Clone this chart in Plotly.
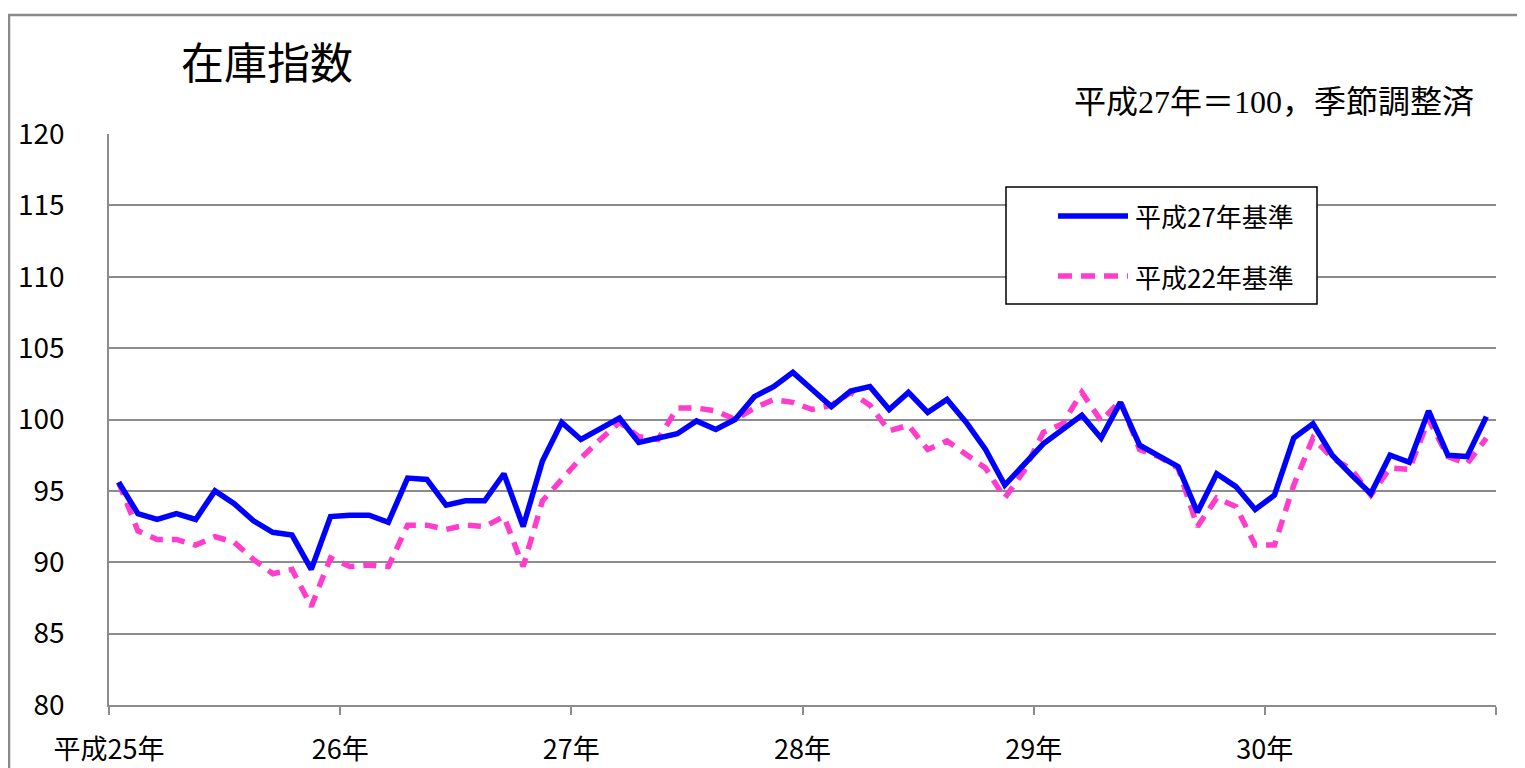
import plotly.graph_objects as go

# ---- data ----
year_labels = ["平成25年", "26年", "27年", "28年", "29年", "30年", ""]
series_names = ["平成27年基準", "平成22年基準"]

base27 = [95.6, 93.4, 93.0, 93.4, 93.0, 95.0, 94.1, 92.9, 92.1, 91.9, 89.5, 93.2,
          93.3, 93.3, 92.8, 95.9, 95.8, 94.0, 94.3, 94.3, 96.2, 92.5, 97.1, 99.8,
          98.6, 99.4, 100.1, 98.4, 98.7, 99.0, 99.9, 99.3, 100.0, 101.6, 102.3, 103.3,
          102.1, 100.9, 102.0, 102.3, 100.7, 101.9, 100.5, 101.4, 99.8, 97.9, 95.4, 96.8,
          98.3, 99.3, 100.3, 98.7, 101.2, 98.2, 97.5, 96.7, 93.5, 96.2, 95.3, 93.7,
          94.7, 98.7, 99.7, 97.5, 96.1, 94.8, 97.5, 97.0, 100.6, 97.5, 97.4, 100.2]

base22 = [95.6, 92.2, 91.6, 91.6, 91.2, 91.8, 91.4, 90.2, 89.2, 89.5, 86.9, 90.3,
          89.7, 89.8, 89.7, 92.6, 92.6, 92.3, 92.6, 92.5, 93.2, 89.7, 94.3, 95.8,
          97.3, 98.6, 99.8, 98.8, 98.6, 100.8, 100.8, 100.6, 100.0, 100.8, 101.4, 101.2,
          100.7, 101.0, 101.9, 101.0, 99.2, 99.6, 97.9, 98.5, 97.5, 96.6, 94.5, 96.4,
          99.1, 99.7, 101.9, 99.9, 101.3, 97.9, 97.4, 96.6, 92.5, 94.5, 93.9, 91.2,
          91.2, 95.4, 98.7, 97.3, 96.5, 94.7, 96.6, 96.5, 100.0, 97.4, 96.9, 98.7]

months = [i + 0.5 for i in range(len(base27))]   # month centres
year_ticks = [12 * k for k in range(len(year_labels))]

BLUE = "#0000FF"
PINK = "#FF3CCB"
JP = "Noto Sans CJK JP"

# ---- geometry (page pixels; the page body adds an 8px margin) ----
OFF = 8
PAGE_W, PAGE_H = 1525, 768
W, H = PAGE_W - OFF, PAGE_H - OFF
# plot area in page pixels
PL, PR, PT, PB = 109, 1496, 134, 705
L, T = PL - OFF, PT - OFF
R, B = W - (PR - OFF), H - (PB - OFF)
PW, PH = PR - PL, PB - PT


def px(xp):
    return (xp - PL) / PW


def py(yp):
    return (PB - yp) / PH


fig = go.Figure()
fig.add_trace(go.Scatter(x=months, y=base22, mode="lines", name=series_names[1],
                         line=dict(color=PINK, width=5.5, dash="13px,9px"),
                         showlegend=False))
fig.add_trace(go.Scatter(x=months, y=base27, mode="lines", name=series_names[0],
                         line=dict(color=BLUE, width=5.5),
                         showlegend=False))

shapes = []
annotations = []

# outer frame
shapes.append(dict(type="rect", xref="paper", yref="paper",
                   x0=px(9), x1=px(1560), y0=py(800), y1=py(15),
                   line=dict(color="#8A8A8A", width=2.5), fillcolor="rgba(0,0,0,0)"))

# legend box (manual)
shapes.append(dict(type="rect", xref="paper", yref="paper",
                   x0=px(1006), x1=px(1317), y0=py(304), y1=py(187),
                   line=dict(color="#000000", width=1.5), fillcolor="#FFFFFF"))
leg_rows = [(216, BLUE, "solid", series_names[0]), (276, PINK, "14px,9px", series_names[1])]
for yy, col, dsh, name in leg_rows:
    shapes.append(dict(type="line", xref="paper", yref="paper",
                       x0=px(1058), x1=px(1128), y0=py(yy), y1=py(yy),
                       line=dict(color=col, width=5.5, dash=dsh)))
    annotations.append(dict(text=name, xref="paper", yref="paper",
                            x=px(1133), y=py(yy), xanchor="left", yanchor="middle",
                            showarrow=False, font=dict(family=JP, size=26, color="#000000")))

# title and note
annotations.append(dict(text="在庫指数", xref="paper", yref="paper",
                        x=px(179), y=py(60), xanchor="left", yanchor="middle",
                        showarrow=False, font=dict(family=JP, size=43, color="#000000")))
annotations.append(dict(text="平成27年＝100，季節調整済", xref="paper", yref="paper",
                        x=px(1476), y=py(102), xanchor="right", yanchor="middle",
                        showarrow=False,
                        font=dict(family="Liberation Serif, " + JP, size=32, color="#000000")))

fig.update_layout(
    width=W, height=H,
    margin=dict(l=L, r=R, t=T, b=B, pad=0, autoexpand=False),
    paper_bgcolor="#FFFFFF", plot_bgcolor="#FFFFFF",
    shapes=shapes, annotations=annotations,
    showlegend=False,
)

fig.update_xaxes(range=[0, 72], tickmode="array", tickvals=year_ticks, ticktext=year_labels,
                 automargin=False,
                 showgrid=False, zeroline=False, showline=True, linecolor="#8C8C8C", linewidth=1.5,
                 ticks="outside", ticklen=8, tickcolor="#8C8C8C", tickwidth=1.5,
                 ticklabelstandoff=12,
                 tickfont=dict(family=JP, size=27, color="#000000"))
fig.update_yaxes(range=[80, 120], tickmode="linear", tick0=80, dtick=5,
                 automargin=False,
                 showgrid=True, gridcolor="#8C8C8C", gridwidth=1.5,
                 zeroline=False, showline=True, linecolor="#8C8C8C", linewidth=1.5,
                 ticks="", ticklabelstandoff=37,
                 tickfont=dict(family=JP, size=28, color="#000000"))

fig.write_html("out.html")
